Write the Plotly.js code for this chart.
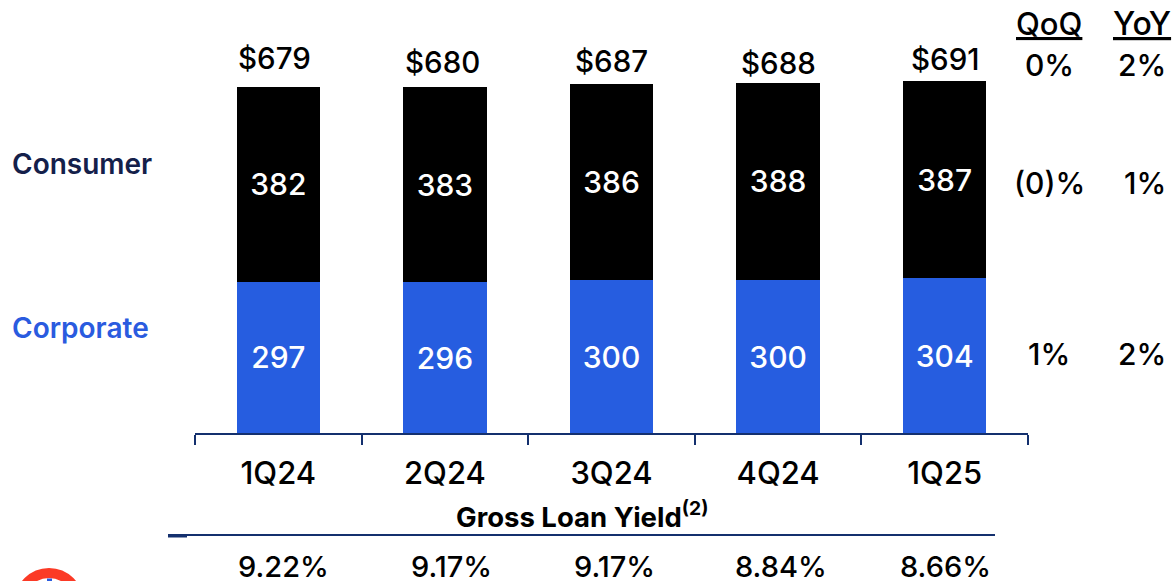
<!DOCTYPE html>
<html><head><meta charset="utf-8">
<script src="https://cdn.plot.ly/plotly-3.0.1.min.js"></script>
<style>html,body{margin:0;padding:0;background:#fff}#c{width:1175px;height:581px}</style>
</head><body><div id="c"></div>
<script>
const categories = ['1Q24','2Q24','3Q24','4Q24','1Q25'];
const corporate = [297,296,300,300,304];
const consumer = [382,383,386,388,387];
const totals = ['$679','$680','$687','$688','$691'];
const yields = ['9.22%','9.17%','9.17%','8.84%','8.66%'];
const qoq = ['0%','(0)%','1%'];
const yoy = ['2%','1%','2%'];
const totalLabelY = [58,62,61,63,59];
const totalLabelShift = [-4,-2,0,0,0];
const yieldLabelShift = [5,7,3,3,1];
const growthLabelY = [65,183,354];
const yoyLabelShift = [0,3,0];
const FONT = 'Inter, "Noto Sans", sans-serif';
const W = 1175, H = 581, L = 195, R = 147, T = 0, B = 148;
const px = x => (x - L) / (W - L - R), py = y => 1 - (y - T) / (H - T - B);
const text = (t, x, y, size, color, weight, extra) => Object.assign({
  text: t, xref: 'paper', yref: 'paper', x: px(x), y: py(y), xanchor: 'center', yanchor: 'middle',
  showarrow: false, font: {family: FONT, size: size, color: color || '#000', weight: weight || 500}
}, extra || {});
const annotations = [];
categories.forEach((c, i) => {
  annotations.push(text(totals[i], 0, totalLabelY[i], 29.5, '#000', 500, {xref: 'x', x: c, xshift: totalLabelShift[i]}));
  annotations.push(text(yields[i], 0, 566, 29, '#000', 550, {xref: 'x', x: c, xshift: yieldLabelShift[i]}));
});
annotations.push(text('Consumer', 10, 164, 28, '#14204a', 600, {xanchor: 'left'}));
annotations.push(text('Corporate', 10, 328, 28, '#2a5bdf', 600, {xanchor: 'left'}));
annotations.push(text('<u>QoQ</u>', 1049, 24, 31, '#000', 550));
annotations.push(text('<u>YoY</u>', 1142, 24, 32, '#000', 550));
growthLabelY.forEach((y, i) => {
  annotations.push(text(qoq[i], 1049, y, 30, '#000', 550));
  annotations.push(text(yoy[i], 1142, y, 30, '#000', 550, {xshift: yoyLabelShift[i]}));
});
annotations.push(text('Gross Loan Yield<sup>(2)</sup>', 582, 515, 27.5, '#000', 700));
const shapes = [
  {type:'line', xref:'paper', yref:'paper', x0:px(168), x1:px(995), y0:py(535), y1:py(535), line:{color:'#14306e', width:2}},
  {type:'line', xref:'paper', yref:'paper', x0:px(168), x1:px(187), y0:py(536), y1:py(536), line:{color:'#14306e', width:3}},
  {type:'circle', xref:'paper', yref:'paper', x0:px(19.5), x1:px(78.5), y0:py(573), y1:py(632), line:{color:'#fb3a26', width:10}, fillcolor:'rgba(0,0,0,0)'},
  {type:'rect', xref:'paper', yref:'paper', x0:px(47), x1:px(52), y0:py(578.5), y1:py(581), line:{width:0}, fillcolor:'#2a5bdf'}
];
const inside = {family:FONT, size:30, color:'#fff', weight:500};
Plotly.newPlot('c', [
  {type:'bar', name:'Corporate', x:categories, y:corporate, marker:{color:'#265de0'}, text:corporate.map(String),
   textposition:'inside', insidetextanchor:'middle', textangle:0, constraintext:'none', textfont:inside, cliponaxis:false},
  {type:'bar', name:'Consumer', x:categories, y:consumer, marker:{color:'#000'}, text:consumer.map(String),
   textposition:'inside', insidetextanchor:'middle', textangle:0, constraintext:'none', textfont:inside, cliponaxis:false}
], {
  width:W, height:H, barmode:'stack', bargap:0.5, showlegend:false,
  margin:{l:L, r:R, t:T, b:B, pad:0},
  paper_bgcolor:'#fff', plot_bgcolor:'#fff',
  xaxis:{type:'category', range:[-0.5,4.5], tickson:'boundaries', ticks:'outside', ticklen:10, tickwidth:2, tickcolor:'#14306e',
    showline:true, linecolor:'#14306e', linewidth:2, showgrid:false, zeroline:false, ticklabelstandoff:12,
    tickfont:{family:FONT, size:31, color:'#000', weight:550}},
  yaxis:{range:[0,850], visible:false, showgrid:false, zeroline:false, fixedrange:true},
  annotations, shapes
}, {displayModeBar:false, staticPlot:true});
</script></body></html>
